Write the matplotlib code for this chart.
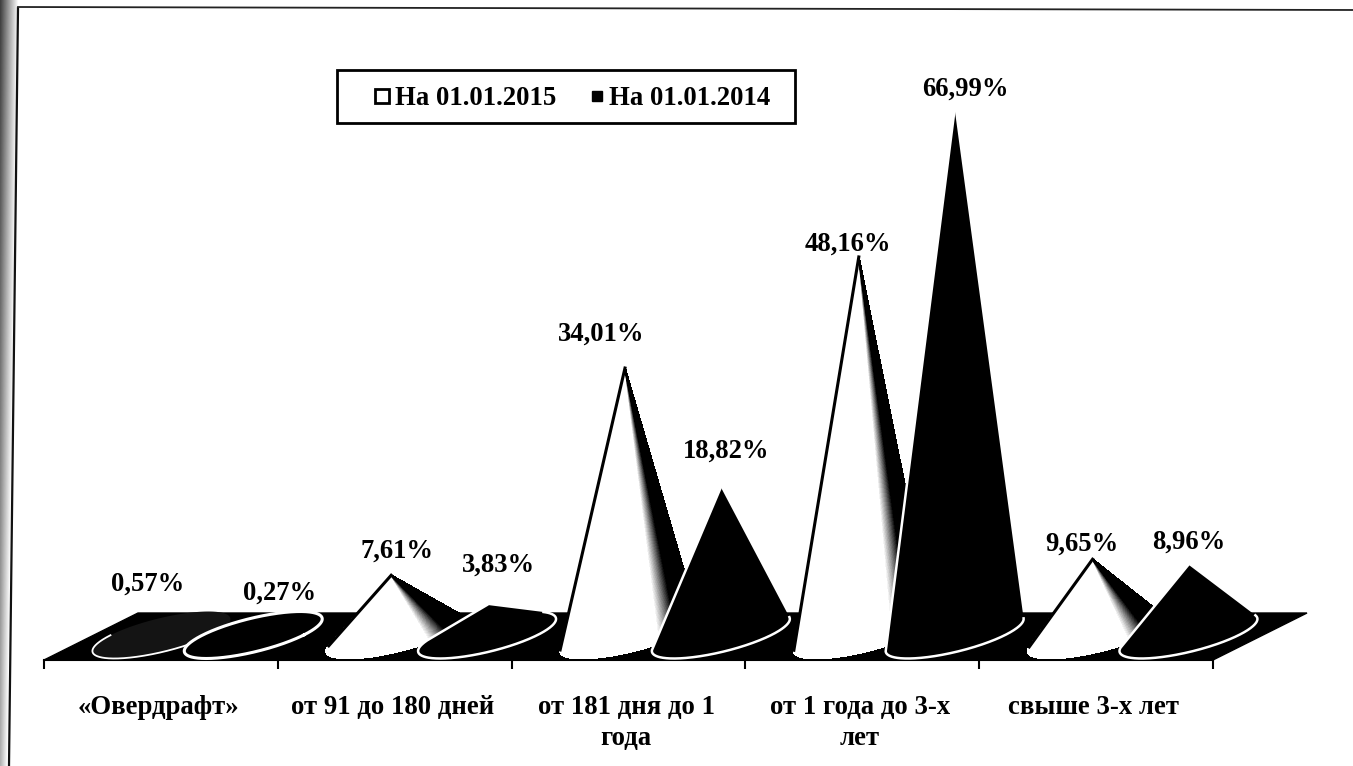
import numpy as np
import matplotlib
matplotlib.use('Agg')
import matplotlib.pyplot as plt
from matplotlib.collections import PolyCollection
from matplotlib.lines import Line2D
from matplotlib.patches import Polygon, Rectangle

categories = ['«Овердрафт»', 'от 91 до 180 дней', 'от 181 дня до 1\nгода',
              'от 1 года до 3-х\nлет', 'свыше 3-х лет']
series_names = ['На 01.01.2015', 'На 01.01.2014']
values_2015 = [0.57, 7.61, 34.01, 48.16, 9.65]
values_2014 = [0.27, 3.83, 18.82, 66.99, 8.96]

# manual label shifts in pixels, the original has hand placed labels
shift_2015 = [(-10, 46), (6, 24), (-24, 34), (-11, 13), (-11, 15)]
shift_2014 = [(26, 40), (11, 40), (5, 36), (11, 20), (0, 22)]

W, H = 1353, 766
PX_X = 233.8   # pixels per category
PX_Y = 7.85    # pixels per percent
LEFT, FRONT = 44, 660
BASE_UP = 25   # base centre above the front edge of the floor
DEPTH = (94, 47)
RADIUS = 50.5
WHITE_BASE_SHIFT = 4   # white cones lean a little to the left

plt.rcParams['font.family'] = ['Liberation Serif', 'DejaVu Serif']
plt.rcParams['font.weight'] = 'bold'

fig = plt.figure(figsize=(W / 100, H / 100), dpi=100)

# scanned page edge
band = fig.add_axes([0, 0, 26 / W, 1])
gx, gy = np.meshgrid(np.linspace(0, 1, 26), np.linspace(0, 1, 200))
band.imshow(np.clip(0.25 + 1.1 * gx + 0.45 * gy, 0, 1), cmap='gray', vmin=0, vmax=1,
            aspect='auto')
band.axis('off')
fig.add_artist(Line2D([9 / W, 18 / W], [0, 1 - 8 / H], color='#111111', lw=1.6))
fig.add_artist(Line2D([18 / W, 1], [1 - 7 / H, 1 - 10 / H], color='#222222', lw=1.3))

ax = fig.add_axes([LEFT / W, 1 - FRONT / H, PX_X * 5 / W, 590 / H])
ax.patch.set_alpha(0)
ax.set_xlim(0, 5)
ax.set_ylim(-BASE_UP / PX_Y, (590 - BASE_UP) / PX_Y)
for side in ['left', 'right', 'top']:
    ax.spines[side].set_visible(False)
ax.spines['bottom'].set_color('black')
ax.spines['bottom'].set_linewidth(1.5)
ax.set_yticks([])
ax.set_xticks(range(6))
ax.set_xticklabels([])
ax.tick_params(axis='x', length=6.5, width=1.5, color='black')
ax.set_xticks(np.arange(5) + 0.49, labels=categories, minor=True)
ax.tick_params(axis='x', which='minor', length=0, pad=25.5, labelsize=19.3)
for lab in ax.get_xticklabels(minor=True):
    lab.set_linespacing(1.3)

# floor
y0 = -BASE_UP / PX_Y
dx, dy = DEPTH[0] / PX_X, DEPTH[1] / PX_Y
ax.add_patch(Polygon([(0, y0), (5, y0), (5 + dx, y0 + dy), (dx, y0 + dy)],
                     closed=True, fc='black', ec='black', clip_on=False, zorder=1))


def draw_cone(center, value, white, z):
    # everything in pixels relative to the apex column, then back to data units
    shift = WHITE_BASE_SHIFT if white else 0
    t = np.linspace(0, 2 * np.pi, 721)[:-1]
    px = shift + RADIUS * np.cos(t) + DEPTH[0] / 2 * np.sin(t)
    py = DEPTH[1] / 2 * np.sin(t)
    to_x = lambda a: center + np.asarray(a) / PX_X
    to_y = lambda a: np.asarray(a) / PX_Y
    h = value * PX_Y
    b = h / (DEPTH[1] / 2)
    a = -b * (DEPTH[0] / 2) / RADIUS

    if a * a + b * b < 1:
        # flat cone, only the base is seen
        fill = '#141414' if white else 'black'
        ax.fill(to_x(px), to_y(py), fc=fill, ec='none', zorder=z, clip_on=False)
        if white:
            front = np.sin(t) < 0
            ax.plot(to_x(px[front]), to_y(py[front]), color='white',
                    lw=1.3, zorder=z + 0.1, clip_on=False)
        else:
            ax.plot(to_x(np.r_[px, px[0]]), to_y(np.r_[py, py[0]]), color='white',
                    lw=2.2, zorder=z + 0.1, clip_on=False)
        return

    ang = np.arctan2(px, h - py)
    i_l, i_r = np.argmin(ang), np.argmax(ang)
    t_l, t_r = t[i_l], t[i_r]
    if t_r < t_l:
        t_r += 2 * np.pi
    arc = np.linspace(t_l, t_r, 241)
    xs = to_x(shift + RADIUS * np.cos(arc) + DEPTH[0] / 2 * np.sin(arc))
    ys = to_y(DEPTH[1] / 2 * np.sin(arc))
    apex = (center, value)
    hull = [apex] + list(zip(xs, ys))

    ax.add_patch(Polygon(hull, closed=True, fc='black', ec='none', zorder=z, clip_on=False))
    if white:
        facets = [[apex, (xs[i], ys[i]), (xs[i + 1], ys[i + 1])] for i in range(len(xs) - 1)]
        s = np.linspace(0, 1, len(facets))
        level = np.clip((0.74 - s) / 0.1, 0, 1)
        colors = [(v, v, v) for v in level]
        coll = PolyCollection(facets, facecolors=colors, edgecolors=colors, linewidths=0.6,
                              antialiased=False, zorder=z, clip_on=False)
        ax.add_collection(coll)
        ax.plot([center, xs[0]], [value, ys[0]], color='black', lw=2.2, zorder=z + 0.1,
                clip_on=False)
    else:
        ax.plot(np.r_[center, xs], np.r_[value, ys], color='white', lw=1.8,
                zorder=z + 0.1, clip_on=False, solid_joinstyle='round')


OFFSET_W = 0.485
OFFSET_B = 0.895

for i in range(5):
    draw_cone(i + OFFSET_W, values_2015[i], True, 3 + 2 * i)
    draw_cone(i + OFFSET_B, values_2014[i], False, 4 + 2 * i)
    for x, v, sh in [(i + OFFSET_W, values_2015[i], shift_2015[i]),
                     (i + OFFSET_B, values_2014[i], shift_2014[i])]:
        ax.annotate(f'{v:.2f}%'.replace('.', ','), xy=(x, v), xytext=sh,
                    textcoords='offset pixels', ha='center', va='center',
                    fontsize=19.2, fontweight='bold', zorder=30, annotation_clip=False)

# legend frame is wider than the legend padding allows, so it is drawn apart
box_l, box_r, box_t, box_b = 337, 795, 70, 123
fig.add_artist(Rectangle((box_l / W, 1 - box_b / H), (box_r - box_l) / W, (box_b - box_t) / H,
                         transform=fig.transFigure, fc='white', ec='black', lw=2, zorder=2))
handles = [Line2D([], [], ls='none', marker='s', ms=10.5, mfc='white', mec='black', mew=2),
           Line2D([], [], ls='none', marker='s', ms=6.5, mfc='black', mec='black')]
leg = fig.legend(handles, series_names, ncol=2, loc='center left',
                 bbox_to_anchor=(box_l / W, 1 - ((box_t + box_b) / 2 + 2) / H),
                 fontsize=19.3, frameon=False, handletextpad=-0.75, columnspacing=0.28,
                 borderpad=0.45, borderaxespad=0, handlelength=2.46)
leg.set_zorder(3)

plt.savefig('out.png', dpi=100)
plt.close()
